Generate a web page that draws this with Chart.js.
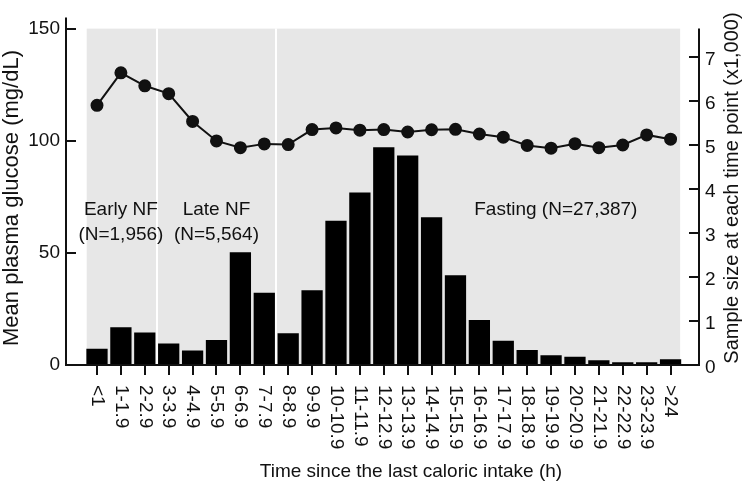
<!DOCTYPE html>
<html lang="en">
<head>
    <meta charset="UTF-8">
    <title>Plasma glucose by time since last caloric intake</title>
    <script src="https://cdn.jsdelivr.net/npm/chart.js"></script>
    <style>
        body { margin: 0; background: #fff; }
        #wrap { width: 743px; height: 482px; position: relative; }
    </style>
</head>
<body>
    <div id="wrap"><canvas id="glucoseChart"></canvas></div>

    <script>
        // time bins (h)
        const timeLabels = ['<1', '1-1.9', '2-2.9', '3-3.9', '4-4.9', '5-5.9', '6-6.9', '7-7.9', '8-8.9', '9-9.9',
            '10-10.9', '11-11.9', '12-12.9', '13-13.9', '14-14.9', '15-15.9', '16-16.9', '17-17.9', '18-18.9',
            '19-19.9', '20-20.9', '21-21.9', '22-22.9', '23-23.9', '>24'];

        // mean plasma glucose (mg/dL), left axis
        const meanGlucose = [115.8, 130.3, 124.5, 121.0, 108.6, 99.9, 96.9, 98.6, 98.3, 105.0,
            105.7, 104.7, 105.0, 103.9, 104.9, 105.1, 103.0, 101.6, 97.9, 96.7,
            98.7, 96.9, 98.1, 102.6, 100.7];

        // sample size (x1,000), right axis
        const sampleSize = [0.37, 0.86, 0.74, 0.49, 0.33, 0.57, 2.56, 1.64, 0.72, 1.70,
            3.28, 3.92, 4.95, 4.76, 3.36, 2.04, 1.02, 0.55, 0.34, 0.22,
            0.19, 0.11, 0.06, 0.06, 0.13];

        const leftTicks = [0, 50, 100, 150];
        const rightTicks = [0, 1, 2, 3, 4, 5, 6, 7];

        // group boundaries and annotation text
        const groupBreaks = [2.5, 7.5];
        const groupNotes = [
            { x: 1, lines: ['Early NF', '(N=1,956)'] },
            { x: 5, lines: ['Late NF', '(N=5,564)'] },
            { x: 19.2, lines: ['Fasting (N=27,387)'] }
        ];

        const FONT = 'Arial, "Liberation Sans", sans-serif';
        const INK = '#111';

        const panelPlugin = {
            id: 'panel',
            beforeDatasetsDraw(chart) {
                const { ctx, scales: { x, y } } = chart;
                const left = x.getPixelForValue(-0.43);
                const right = x.getPixelForValue(24.4);
                const top = y.getPixelForValue(150);
                const bottom = y.getPixelForValue(0);
                ctx.save();
                ctx.fillStyle = '#e7e7e7';
                ctx.fillRect(left, top, right - left, bottom - top);
                ctx.strokeStyle = '#ffffff';
                ctx.lineWidth = 2;
                groupBreaks.forEach(b => {
                    const px = Math.round(x.getPixelForValue(b));
                    ctx.beginPath();
                    ctx.moveTo(px, top);
                    ctx.lineTo(px, bottom);
                    ctx.stroke();
                });
                ctx.fillStyle = INK;
                ctx.font = '19px ' + FONT;
                ctx.textAlign = 'center';
                ctx.textBaseline = 'middle';
                groupNotes.forEach(n => {
                    n.lines.forEach((line, i) => {
                        ctx.fillText(line, x.getPixelForValue(n.x), y.getPixelForValue(69) + i * 25);
                    });
                });
                ctx.restore();
            },
            afterDraw(chart) {
                const { ctx, chartArea: a, scales: { x, y, y1 } } = chart;
                ctx.save();
                ctx.strokeStyle = INK;
                ctx.lineWidth = 2;
                ctx.beginPath();
                // left axis, bottom axis, right axis
                ctx.moveTo(a.left, a.top);
                ctx.lineTo(a.left, a.bottom);
                ctx.lineTo(a.right, a.bottom);
                ctx.lineTo(a.right, y.getPixelForValue(150));
                // inward ticks
                leftTicks.slice(1).forEach(v => {
                    const py = Math.round(y.getPixelForValue(v));
                    ctx.moveTo(a.left, py);
                    ctx.lineTo(a.left + 10, py);
                });
                rightTicks.slice(1).forEach(v => {
                    const py = Math.round(y1.getPixelForValue(v));
                    ctx.moveTo(a.right, py);
                    ctx.lineTo(a.right - 10, py);
                });
                timeLabels.forEach((_, i) => {
                    const px = Math.round(x.getPixelForValue(i));
                    ctx.moveTo(px, a.bottom);
                    ctx.lineTo(px, a.bottom + 10);
                });
                ctx.stroke();

                // x labels, rotated clockwise
                ctx.fillStyle = INK;
                ctx.font = '19px ' + FONT;
                ctx.textAlign = 'left';
                ctx.textBaseline = 'middle';
                timeLabels.forEach((lab, i) => {
                    ctx.save();
                    ctx.translate(x.getPixelForValue(i), a.bottom + 20);
                    ctx.rotate(Math.PI / 2);
                    ctx.fillText(lab, 0, 0);
                    ctx.restore();
                });

                // axis titles
                ctx.textAlign = 'center';
                ctx.textBaseline = 'alphabetic';
                ctx.fillText('Time since the last caloric intake (h)', 411, 477);

                ctx.save();
                ctx.font = '22px ' + FONT;
                ctx.translate(18, 198);
                ctx.rotate(-Math.PI / 2);
                ctx.fillText('Mean plasma glucose (mg/dL)', 0, 0);
                ctx.restore();

                ctx.save();
                ctx.font = '20px ' + FONT;
                ctx.translate(738, 188);
                ctx.rotate(-Math.PI / 2);
                ctx.fillText('Sample size at each time point (x1,000)', 0, 0);
                ctx.restore();
                ctx.restore();
            }
        };

        const ctx = document.getElementById('glucoseChart').getContext('2d');
        new Chart(ctx, {
            data: {
                datasets: [
                    {
                        type: 'line',
                        label: 'Mean plasma glucose',
                        data: meanGlucose.map((v, i) => ({ x: i, y: v })),
                        yAxisID: 'y',
                        borderColor: INK,
                        borderWidth: 2,
                        pointRadius: 5.5,
                        pointBackgroundColor: INK,
                        pointBorderColor: INK,
                        tension: 0,
                        order: 0
                    },
                    {
                        type: 'bar',
                        label: 'Sample size',
                        data: sampleSize.map((v, i) => ({ x: i, y: v })),
                        yAxisID: 'y1',
                        backgroundColor: '#000',
                        borderWidth: 0,
                        barPercentage: 0.89,
                        categoryPercentage: 1,
                        order: 1
                    }
                ]
            },
            options: {
                responsive: true,
                maintainAspectRatio: false,
                animation: false,
                layout: { autoPadding: false, padding: { top: 2, left: 0, right: 0, bottom: 0 } },
                plugins: { legend: { display: false }, tooltip: { enabled: false } },
                scales: {
                    x: {
                        type: 'linear',
                        min: -1.297,
                        max: 25.19,
                        offset: false,
                        grid: { display: false, drawTicks: false },
                        border: { display: false },
                        ticks: { display: false },
                        afterFit: s => { s.height = 117; }
                    },
                    y: {
                        position: 'left',
                        min: 0,
                        max: 155,
                        grid: { display: false, drawTicks: false },
                        border: { display: false },
                        ticks: {
                            stepSize: 50,
                            includeBounds: false,
                            padding: 6,
                            color: INK,
                            font: { family: FONT, size: 19 }
                        },
                        afterFit: s => { s.width = 66; }
                    },
                    y1: {
                        position: 'right',
                        min: 0,
                        max: 7.9,
                        grid: { display: false, drawTicks: false },
                        border: { display: false },
                        ticks: {
                            stepSize: 1,
                            includeBounds: false,
                            padding: 6,
                            labelOffset: 3,
                            color: INK,
                            font: { family: FONT, size: 19 }
                        },
                        afterFit: s => { s.width = 44; }
                    }
                }
            },
            plugins: [panelPlugin]
        });
    </script>
</body>
</html>
